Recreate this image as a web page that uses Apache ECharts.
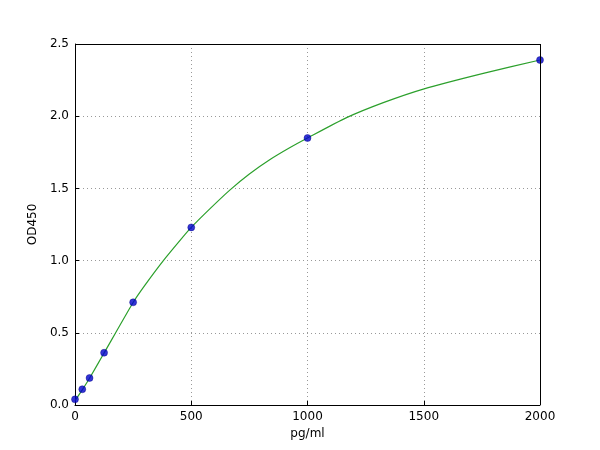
<!DOCTYPE html>
<html>
<head>
<meta charset="utf-8">
<script src="https://cdn.jsdelivr.net/npm/echarts@6/dist/echarts.min.js"></script>
<style>html,body{margin:0;padding:0;background:#fff;}#c{width:600px;height:450px;}</style>
</head>
<body>
<div id="c"></div>
<script>
// Standard points
var concentrations = [0, 31.25, 62.5, 125, 250, 500, 1000, 2000];
var odValues = [0.039, 0.109, 0.187, 0.362, 0.711, 1.230, 1.849, 2.389];
// Fitted curve
var curveX = [0, 31.25, 62.5, 125, 250, 301, 380, 459, 500, 581, 667, 750, 839, 925, 1000, 1168, 1326, 1498, 1756, 2000];
var curveY = [0.030, 0.105, 0.185, 0.360, 0.710, 0.830, 1.000, 1.154, 1.230, 1.360, 1.490, 1.600, 1.700, 1.783, 1.849, 1.990, 2.094, 2.188, 2.297, 2.389];
// Axis ticks
var xTicks = [0, 500, 1000, 1500, 2000];
var yTicks = [0.0, 0.5, 1.0, 1.5, 2.0, 2.5];

var chart = echarts.init(document.getElementById('c'), null, {renderer: 'canvas'});
var font = 'DejaVu Sans';
chart.setOption({
  animation: false,
  backgroundColor: '#ffffff',
  grid: {left: 75, right: 60, top: 44, bottom: 45},
  xAxis: {
    type: 'value', min: 0, max: 2000, interval: 500,
    name: 'pg/ml', nameLocation: 'middle', nameGap: 22,
    nameTextStyle: {fontFamily: font, fontSize: 12, color: '#000'},
    axisLine: {show: true, onZero: false, lineStyle: {color: '#000', width: 1}},
    axisTick: {show: true, inside: true, length: 4, lineStyle: {color: '#000'}},
    axisLabel: {fontFamily: font, fontSize: 12, color: '#000', margin: 6,
      formatter: function(v){ return xTicks.indexOf(v) >= 0 ? String(v) : ''; }},
    splitLine: {show: true, lineStyle: {color: '#999', type: [1, 3], width: 1}}
  },
  yAxis: {
    type: 'value', min: 0, max: 2.5, interval: 0.5,
    name: 'OD450', nameLocation: 'middle', nameGap: 30, nameRotate: 90,
    nameTextStyle: {fontFamily: font, fontSize: 12, color: '#000'},
    axisLine: {show: true, onZero: false, lineStyle: {color: '#000', width: 1}},
    axisTick: {show: true, inside: true, length: 4, lineStyle: {color: '#000'}},
    axisLabel: {fontFamily: font, fontSize: 12, color: '#000', margin: 6,
      formatter: function(v){ return v.toFixed(1); }},
    splitLine: {show: true, lineStyle: {color: '#999', type: [1, 3], width: 1}}
  },
  series: [
    {
      type: 'line', data: curveX.map(function(x, i){ return [x, curveY[i]]; }),
      smooth: 0.2, showSymbol: false, symbol: 'none',
      lineStyle: {color: '#2ca02c', width: 1.2}, z: 2
    },
    {
      type: 'scatter', data: concentrations.map(function(x, i){ return [x, odValues[i]]; }),
      symbol: 'circle', symbolSize: 7,
      itemStyle: {color: '#0000cc', borderColor: '#000080', borderWidth: 0.5}, z: 3
    },
    {
      // frame top/right
      type: 'line', data: [], markLine: {
        silent: true, symbol: 'none', label: {show: false},
        lineStyle: {color: '#000', type: 'solid', width: 1},
        data: [[{coord: [0, 2.5]}, {coord: [2000, 2.5]}], [{coord: [2000, 0]}, {coord: [2000, 2.5]}]]
      }
    }
  ]
});
</script>
</body>
</html>
